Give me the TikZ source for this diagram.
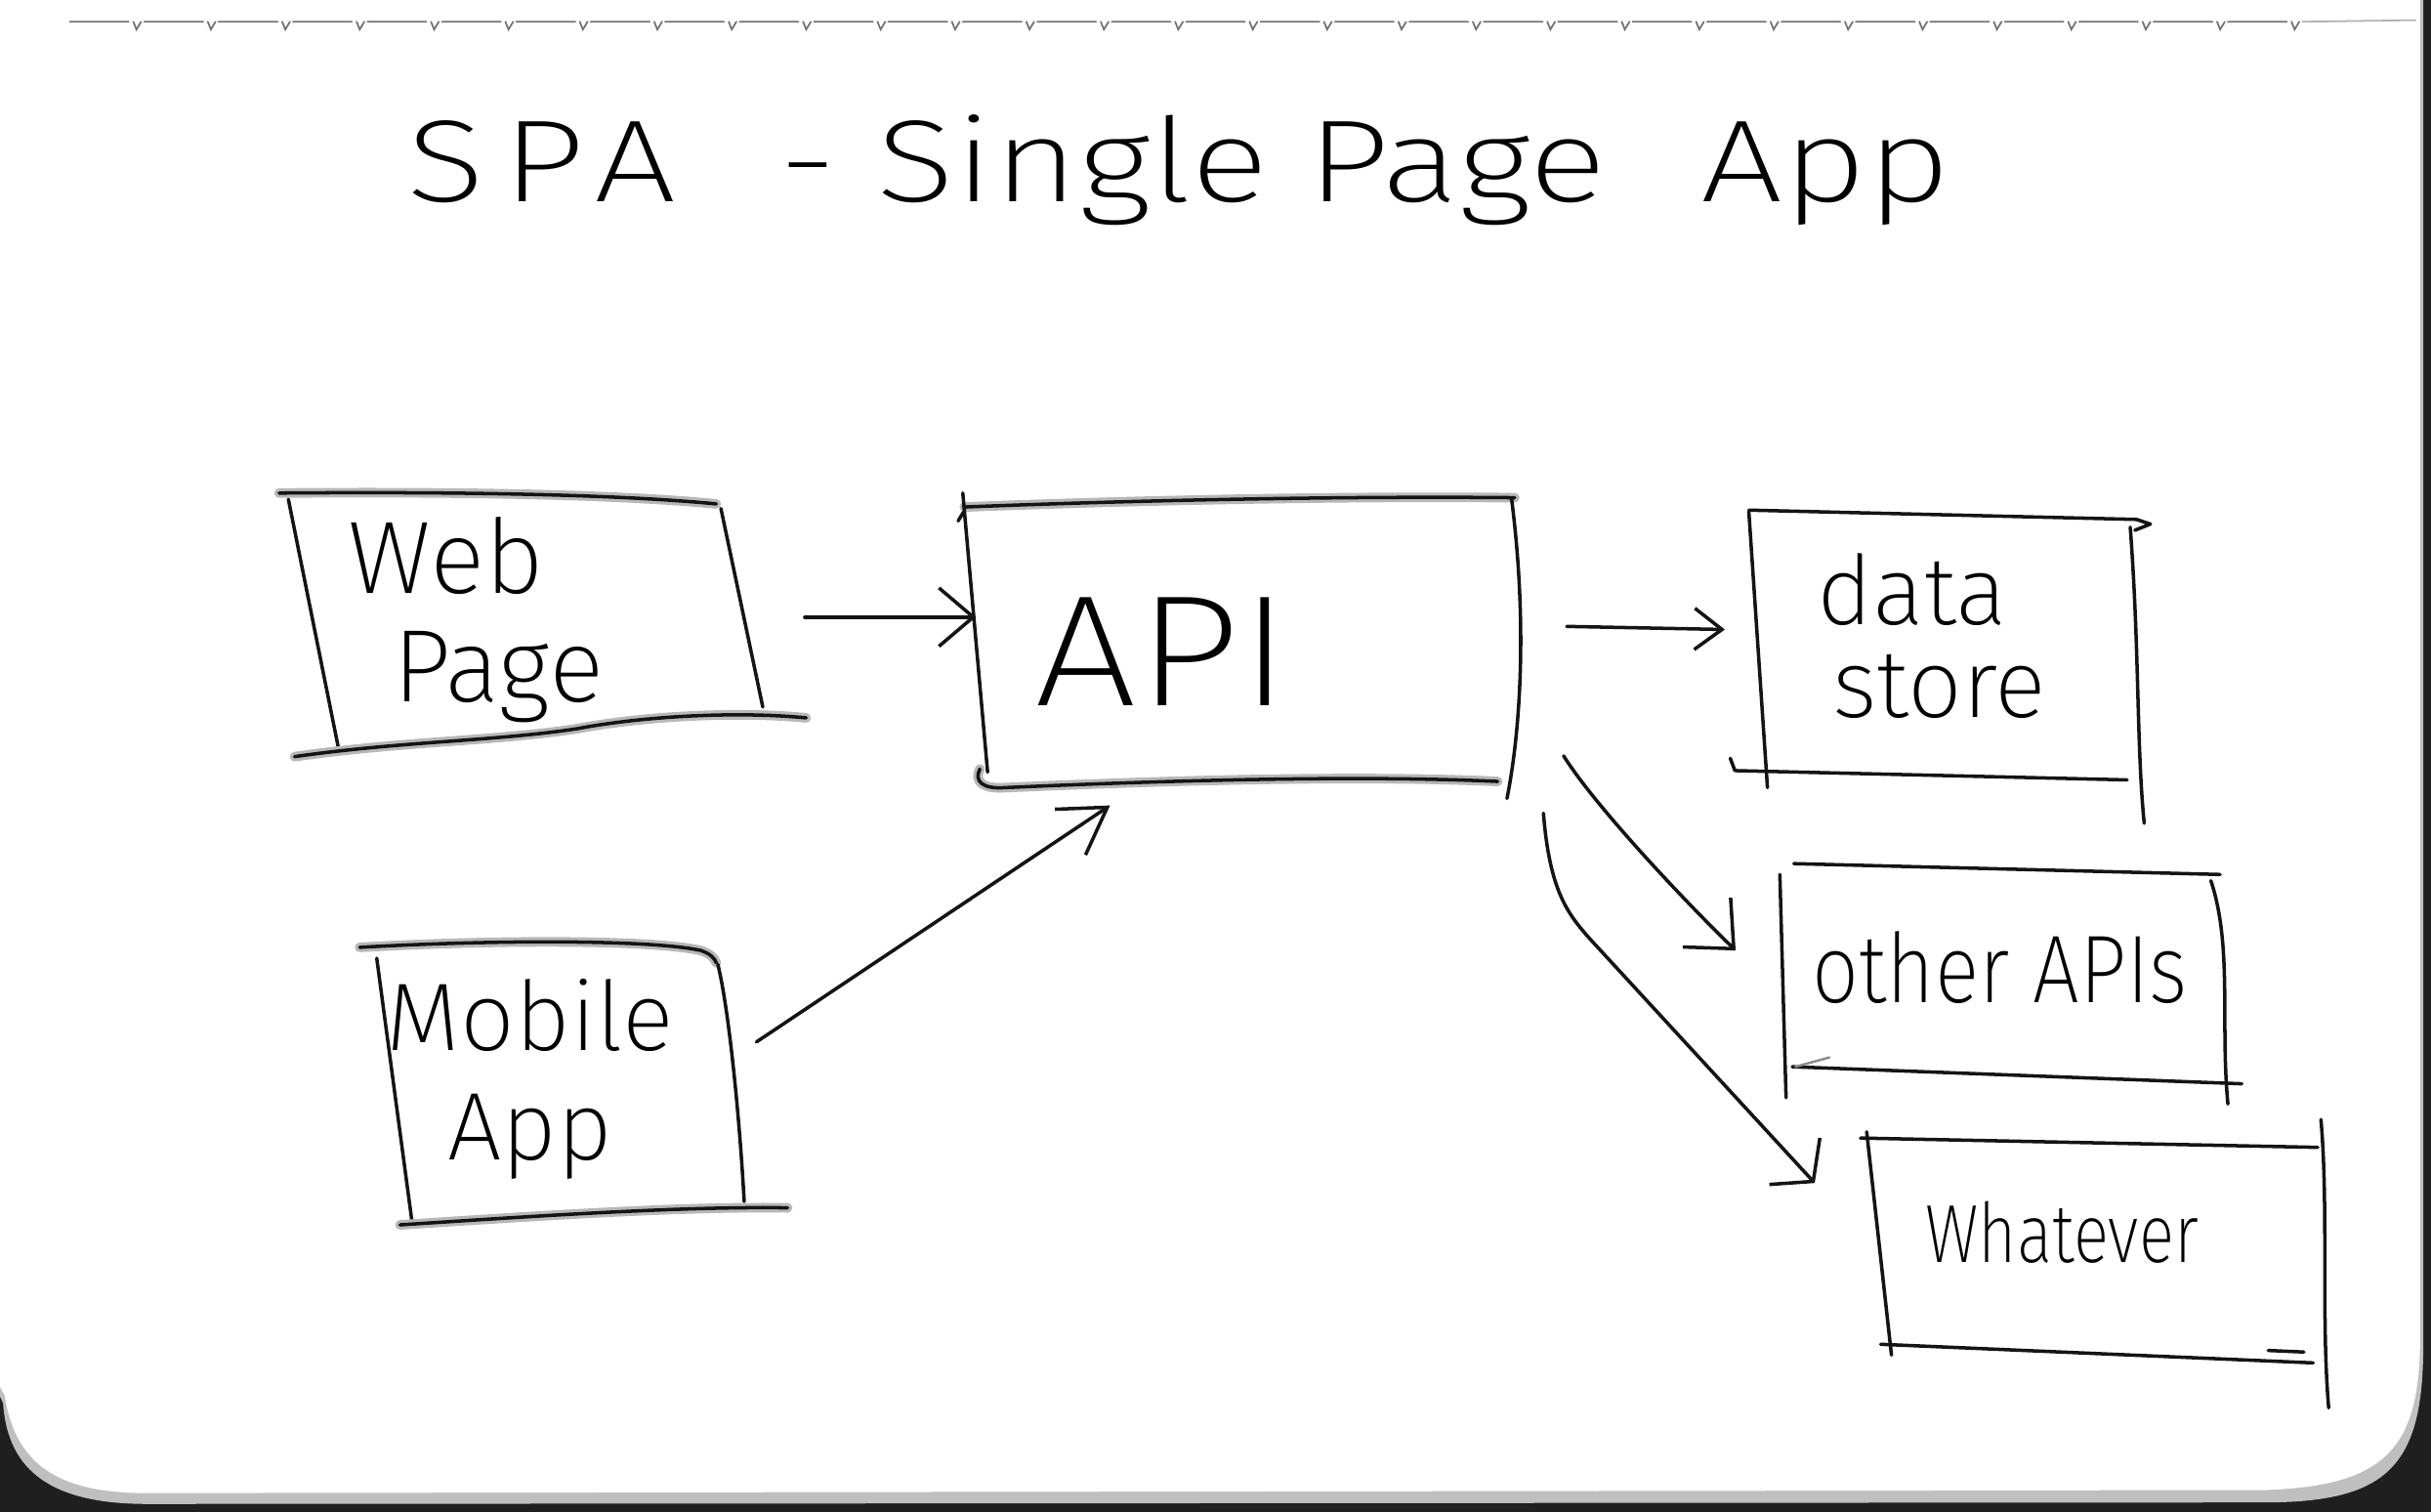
\documentclass[tikz,border=0pt]{standalone}
\usepackage{fontspec}
\newfontfamily\hand{Fira Sans ExtraLight}
\usetikzlibrary{arrows.meta,calc}

\begin{document}
\begin{tikzpicture}[x=0.015874cm,y=-0.015874cm,
  ink/.style={draw=black!92, line width=1.0pt, line cap=round, line join=round},
  smear/.style={ink, preaction={draw=black!28, line width=2.8pt, line cap=round}},
  boxarea/.style={draw=none, inner sep=0pt, rectangle},
  txt/.style={inner sep=0pt, text=black},
  perf/.style={draw=black!55, line width=0.5pt, line cap=round},
]
\useasboundingbox (0,0) rectangle (1568,975);

% ---------- notebook page ----------
\fill[black!88] (0,0) rectangle (1568,975);
\fill[black!25] (-5,-5) -- (1563,-5) -- (1563,868)
  .. controls (1563,945) and (1540,968) .. (1465,969) -- (95,970)
  .. controls (35,970) and (5,950) .. (2,905) -- (-5,890) -- cycle;
\fill[white] (-5,-5) -- (1561,-5) -- (1561,862)
  .. controls (1561,935) and (1538,958) .. (1462,961) -- (95,963)
  .. controls (38,963) and (10,945) .. (3,900) -- (-5,885) -- cycle;

% perforated top edge
\foreach \i in {0,...,29}{
  \draw[perf] ({45+48*\i},14) -- ++(38,0) ++(3,0) -- ++(2,5) -- ++(3,-5);
}
\draw[perf, draw=black!30] (1485,14) -- (1558,13);

% ---------- title ----------
\node[txt, anchor=base west, xscale=1.25,
      font=\hand\fontsize{34}{38}\selectfont] (title) at (262,130)
  {{\addfontfeature{LetterSpace=12}SPA}\hspace{24pt}-\hspace{9pt}Single\hspace{9pt}Page\hspace{22pt}App};

% ---------- box areas ----------
\node[boxarea, minimum width=138.7pt, minimum height=75.4pt] (web) at (338,403) {};
\node[boxarea, minimum width=162.6pt, minimum height=83.1pt] (api) at (800,414) {};
\node[boxarea, minimum width=113.8pt, minimum height=78.1pt] (store) at (1256,416) {};
\node[boxarea, minimum width=126.5pt, minimum height=61pt] (others) at (1292,627) {};
\node[boxarea, minimum width=131pt, minimum height=63.2pt] (whatever) at (1352,805) {};
\node[boxarea, minimum width=106.1pt, minimum height=76.8pt] (mobile) at (357,700) {};

% ---------- labels ----------
\node[txt, align=left, font=\hand\fontsize{30}{31.6}\selectfont] (webtxt) at (307,400)
  {Web\\\hspace*{13pt}Page};
\node[txt, xscale=1.15, font=\hand\fontsize{46}{50}\selectfont] (apitxt) at (750,420) {API};
\node[txt, align=left, font=\hand\fontsize{28}{27}\selectfont] (storetxt) at (1246,410)
  {data\\\hspace*{4.5pt}store};
\node[txt, xscale=0.86, font=\hand\fontsize{28}{30}\selectfont] (otherstxt) at (1290,624) {other APIs};
\node[txt, xscale=0.8, font=\hand\fontsize{24}{26}\selectfont] (whatevertxt) at (1330,795) {Whatever};
\node[txt, align=center, font=\hand\fontsize{28}{31.6}\selectfont] (mobiletxt) at (342,696)
  {Mobile\\App};

% ---------- hand-drawn box outlines ----------
% Web Page
\draw[smear] (180,318) .. controls (300,317) and (400,319) .. (462,325);
\draw[ink] (186,322) -- (219,486);
\draw[ink] (465,328) -- (492,456);
\draw[smear] (190,488) .. controls (260,478) and (320,478) .. (372,470)
  .. controls (420,461) and (480,459) .. (520,463);

% API
\draw[ink] (618,336) -- (624,326);
\draw[smear] (622,327) .. controls (750,322) and (880,320) .. (977,321);
\draw[ink] (621,318) -- (637,498);
\draw[ink] (975,322) .. controls (985,400) and (981,470) .. (972,515);
\draw[smear] (632,496) .. controls (628,504) and (634,509) .. (648,508)
  .. controls (760,503) and (880,500) .. (966,504);

% data store
\draw[ink] (1128,329) -- (1378,335) -- (1387,338) -- (1377,342);
\draw[ink] (1128,330) -- (1140,508);
\draw[ink] (1374,340) .. controls (1380,420) and (1378,480) .. (1383,531);
\draw[ink] (1116,489) -- (1119,497) -- (1372,503);

% other APIs
\draw[ink] (1157,557) -- (1432,564);
\draw[ink] (1148,564) -- (1152,708);
\draw[ink] (1426,568) .. controls (1440,610) and (1432,660) .. (1437,712);
\draw[ink] (1156,688) -- (1446,699);
\draw[ink, draw=black!45, line width=0.7pt] (1158,688) -- (1180,682);

% Whatever
\draw[ink] (1200,734) -- (1495,740);
\draw[ink] (1204,730) -- (1220,874);
\draw[ink] (1497,722) .. controls (1502,780) and (1497,850) .. (1502,908);
\draw[ink] (1213,867) -- (1492,879);
\draw[ink] (1463,871) -- (1486,872);

% Mobile App
\draw[smear] (232,611) .. controls (320,606) and (420,606) .. (452,613)
  .. controls (458,615) and (461,618) .. (462,621);
\draw[ink] (243,618) -- (266,790);
\draw[ink] (463,622) .. controls (470,650) and (477,720) .. (480,775);
\draw[smear] (258,790) .. controls (350,784) and (440,778) .. (508,779);

% ---------- connectors ----------
\draw[ink, -{Straight Barb[length=10pt,width=17pt]}]
  ($(web.east)+(27,-5)$) -- ($(api.west)+(10,-16)$);
\draw[ink, -{Straight Barb[length=8pt,width=12pt]}]
  ($(api.east)+(30,-10)$) -- ($(store.west)+(-17,-10)$);
\draw[ink, -{Straight Barb[length=11pt,width=20pt]}]
  ($(api.south east)+(28,-19)$) .. controls +(20,32) and +(-34,-33) .. ($(others.west)+(-32,-14)$);
\draw[ink, -{Straight Barb[length=8pt,width=20pt]}]
  ($(api.south east)+(15,18)$) .. controls +(4,50) and +(-14,-16) .. (1025,605)
  -- ($(whatever.west)+(-36,-42)$);
\draw[ink, -{Straight Barb[length=13pt,width=16pt]}]
  ($(mobile.east)+(13,-28)$) -- ($(api.south)+(-84,13)$);

\end{tikzpicture}
\end{document}
